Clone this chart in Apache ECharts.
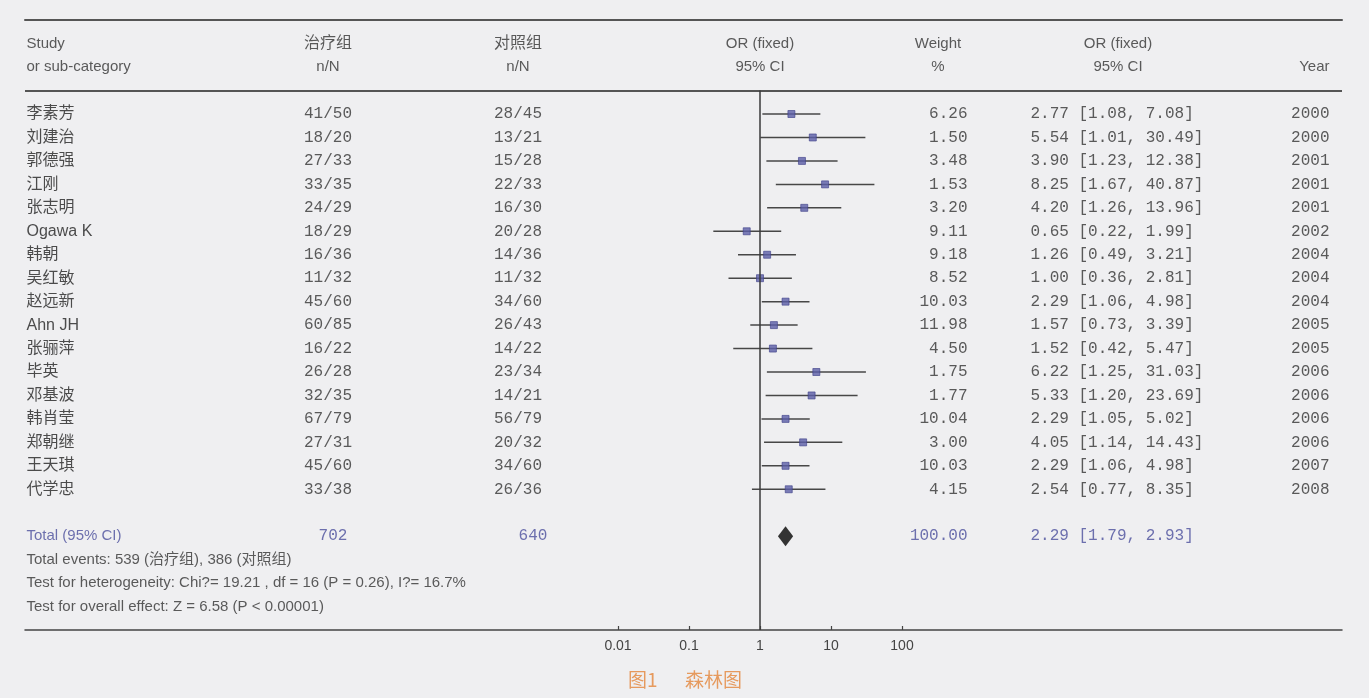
<!DOCTYPE html>
<html>
<head>
<meta charset="utf-8">
<script src="https://cdn.jsdelivr.net/npm/echarts@6/dist/echarts.min.js"></script>
<style>
html,body{margin:0;padding:0;background:#efeff1;}
#chart{width:1369px;height:698px;}
</style>
</head>
<body>
<div id="chart"></div>
<script>
// ---------- data ----------
const studies = ['李素芳','刘建治','郭德强','江刚','张志明','Ogawa K','韩朝','吴红敏','赵远新','Ahn JH','张骊萍','毕英','邓基波','韩肖莹','郑朝继','王天琪','代学忠'];
const treatEvents = [41,18,27,33,24,18,16,11,45,60,16,26,32,67,27,45,33];
const treatTotals = [50,20,33,35,29,29,36,32,60,85,22,28,35,79,31,60,38];
const ctrlEvents  = [28,13,15,22,16,20,14,11,34,26,14,23,14,56,20,34,26];
const ctrlTotals  = [45,21,28,33,30,28,36,32,60,43,22,34,21,79,32,60,36];
const weights = [6.26,1.50,3.48,1.53,3.20,9.11,9.18,8.52,10.03,11.98,4.50,1.75,1.77,10.04,3.00,10.03,4.15];
const orValues = [2.77,5.54,3.90,8.25,4.20,0.65,1.26,1.00,2.29,1.57,1.52,6.22,5.33,2.29,4.05,2.29,2.54];
const ciLow  = [1.08,1.01,1.23,1.67,1.26,0.22,0.49,0.36,1.06,0.73,0.42,1.25,1.20,1.05,1.14,1.06,0.77];
const ciHigh = [7.08,30.49,12.38,40.87,13.96,1.99,3.21,2.81,4.98,3.39,5.47,31.03,23.69,5.02,14.43,4.98,8.35];
const years = [2000,2000,2001,2001,2001,2002,2004,2004,2004,2005,2005,2006,2006,2006,2006,2007,2008];

const totalTreat = 702, totalCtrl = 640, totalWeight = 100.00;
const totalOR = 2.29, totalLow = 1.79, totalHigh = 2.93;
const totalEventsText = 'Total events: 539 (治疗组), 386 (对照组)';
const heteroText = 'Test for heterogeneity: Chi?= 19.21 , df = 16 (P = 0.26), I?= 16.7%';
const overallText = 'Test for overall effect: Z = 6.58 (P < 0.00001)';

const headerTop = ['Study','治疗组','对照组','OR (fixed)','Weight','OR (fixed)'];
const headerBottom = ['or sub-category','n/N','n/N','95% CI','%','95% CI','Year'];
const tickValues = [0.01, 0.1, 1, 10, 100];
const tickLabels = ['0.01','0.1','1','10','100'];
const caption = '图1\u3000  森林图';

// ---------- layout ----------
const X0 = 25, X1 = 1342, ONE = 760, DEC = 71;
const ROW_MIN = -4, ROW_MAX = 22, TOTAL_ROW = 18;
const col = {study:26, treat:328, ctrl:518, plot:760, weightHead:938, weight:968, orci:1030, orciHead:1118, year:1330, treatTot:333, ctrlTot:533};

const SANS = "'Liberation Sans','Noto Sans CJK SC'";
const MONO = "'Liberation Mono','DejaVu Sans Mono'";
const TXT = '#333', BLUE = '#4b4f9c';

function textSeries(items, align, style, extra){
  const pos = align === 'left' ? 'right' : (align === 'right' ? 'left' : 'inside');
  return Object.assign({
    type:'scatter', xAxisIndex:1, yAxisIndex:0, silent:true, clip:false,
    symbolSize:1, itemStyle:{color:'rgba(0,0,0,0)'},
    label:Object.assign({show:true, position:pos, distance:0, formatter:p=>p.data.t}, style),
    data: items.map(it=>({value:[it[0], it[1]], t:it[2]})),
    z:5
  }, extra||{});
}
const rows = studies.map((_,i)=>i);
const headStyle = {fontFamily:SANS, fontSize:15, color:TXT};
const cjkHeadStyle = {fontFamily:SANS, fontSize:16, color:TXT};
const monoStyle = {fontFamily:MONO, fontSize:16, color:TXT};
const nameStyle = {fontFamily:SANS, fontSize:16, color:'#222'};

const series = [
  // headers
  textSeries([[col.study,-3,headerTop[0]],[col.study,-2,headerBottom[0]]],'left',headStyle,
    {markLine:{silent:true, symbol:['none','none'], label:{show:false}, lineStyle:{color:'#555', width:2, type:'solid'}, data:[{yAxis:-1}]}}),
  textSeries([[col.treat,-3,headerTop[1]],[col.ctrl,-3,headerTop[2]]],'center',cjkHeadStyle),
  textSeries([[col.plot,-3,headerTop[3]],[col.weightHead,-3,headerTop[4]],[col.orciHead,-3,headerTop[5]],
              [col.treat,-2,headerBottom[1]],[col.ctrl,-2,headerBottom[2]],[col.plot,-2,headerBottom[3]],[col.weightHead,-2,headerBottom[4]],[col.orciHead,-2,headerBottom[5]]],'center',headStyle),
  textSeries([[col.year,-2,headerBottom[6]]],'right',headStyle),
  // rows
  textSeries(rows.map(i=>[col.study,i,studies[i]]),'left',nameStyle),
  textSeries(rows.map(i=>[col.treat,i,treatEvents[i]+'/'+treatTotals[i]]),'center',monoStyle),
  textSeries(rows.map(i=>[col.ctrl,i,ctrlEvents[i]+'/'+ctrlTotals[i]]),'center',monoStyle),
  textSeries(rows.map(i=>[col.weight,i,weights[i].toFixed(2)]),'right',monoStyle),
  textSeries(rows.map(i=>[col.orci,i,orValues[i].toFixed(2)+' ['+ciLow[i].toFixed(2)+', '+ciHigh[i].toFixed(2)+']']),'left',monoStyle),
  textSeries(rows.map(i=>[col.year,i,String(years[i])]),'right',monoStyle),
  // totals
  textSeries([[col.study,TOTAL_ROW,'Total (95% CI)']],'left',Object.assign({},headStyle,{color:BLUE})),
  textSeries([[col.treatTot,TOTAL_ROW,String(totalTreat)],[col.ctrlTot,TOTAL_ROW,String(totalCtrl)]],'center',Object.assign({},monoStyle,{color:BLUE})),
  textSeries([[col.weight,TOTAL_ROW,totalWeight.toFixed(2)]],'right',Object.assign({},monoStyle,{color:BLUE})),
  textSeries([[col.orci,TOTAL_ROW,totalOR.toFixed(2)+' ['+totalLow.toFixed(2)+', '+totalHigh.toFixed(2)+']']],'left',Object.assign({},monoStyle,{color:BLUE})),
  textSeries([[col.study,TOTAL_ROW+1,totalEventsText],[col.study,TOTAL_ROW+2,heteroText],[col.study,TOTAL_ROW+3,overallText]],'left',headStyle),
  // CI lines
  {
    type:'custom', xAxisIndex:0, yAxisIndex:0, silent:true, z:3,
    data: rows.map(i=>[ciLow[i], ciHigh[i], i]),
    encode:{x:[0,1], y:2},
    renderItem:function(params, api){
      const a = api.coord([api.value(0), api.value(2)]);
      const b = api.coord([api.value(1), api.value(2)]);
      return {type:'line', shape:{x1:a[0], y1:a[1], x2:b[0], y2:b[1]}, style:{stroke:'#474747', lineWidth:1.5}};
    }
  },
  // squares
  {
    type:'scatter', xAxisIndex:0, yAxisIndex:0, silent:true, z:4,
    symbol:'rect', symbolSize:7,
    itemStyle:{color:'#5b5ea8', borderColor:'#3f4189', borderWidth:0.8},
    data: rows.map(i=>[orValues[i], i]),
    markLine:{silent:true, symbol:['none','none'], label:{show:false},
      lineStyle:{color:'#3a3a3a', width:1.5, type:'solid'},
      data:[[{coord:[1,-1]},{coord:[1,ROW_MAX]}]]}
  },
  // diamond
  {
    type:'custom', xAxisIndex:0, yAxisIndex:0, silent:true, z:4,
    data:[[totalLow, totalOR, totalHigh, TOTAL_ROW]],
    encode:{x:[0,1,2], y:3},
    renderItem:function(params, api){
      const y = api.value(3);
      const l = api.coord([api.value(0), y]);
      const c = api.coord([api.value(1), y]);
      const r = api.coord([api.value(2), y]);
      const h = 10;
      return {type:'polygon', shape:{points:[[l[0],l[1]],[c[0],c[1]-h],[r[0],r[1]],[c[0],c[1]+h]]}, style:{fill:'#333'}};
    }
  }
];

const chart = echarts.init(document.getElementById('chart'), null, {renderer:'canvas'});
chart.setOption({
  backgroundColor:'#efeff1',
  animation:false,
  title:{text:caption, left:623, top:665, textStyle:{fontFamily:"'Noto Sans CJK SC'", fontSize:19, fontWeight:'normal', color:'#e69a5e'}},
  grid:{left:X0, top:20.2, width:X1-X0, height:630-20.2, containLabel:false},
  xAxis:[
    {type:'log', logBase:10, position:'bottom',
     min:Math.pow(10, -(ONE-X0)/DEC), max:Math.pow(10, (X1-ONE)/DEC),
     axisLine:{show:true, onZero:false, lineStyle:{color:'#444', width:1.5}},
     axisTick:{show:true, inside:true, length:4, customValues:tickValues, lineStyle:{color:'#444', width:1.2}},
     axisLabel:{show:true, customValues:tickValues, margin:9, fontFamily:SANS, fontSize:14, color:'#444',
       formatter:function(v){ const k = tickValues.findIndex(t=>Math.abs(Math.log10(t)-Math.log10(v))<1e-6); return k>=0?tickLabels[k]:''; }},
     splitLine:{show:false}, minorTick:{show:false}
    },
    {type:'value', position:'top', min:X0, max:X1,
     axisLine:{show:true, onZero:false, lineStyle:{color:'#555', width:2}},
     axisTick:{show:false}, axisLabel:{show:false}, splitLine:{show:false}
    }
  ],
  yAxis:[{type:'value', inverse:true, min:ROW_MIN, max:ROW_MAX, show:false, splitLine:{show:false}}],
  series:series
});
</script>
</body>
</html>
